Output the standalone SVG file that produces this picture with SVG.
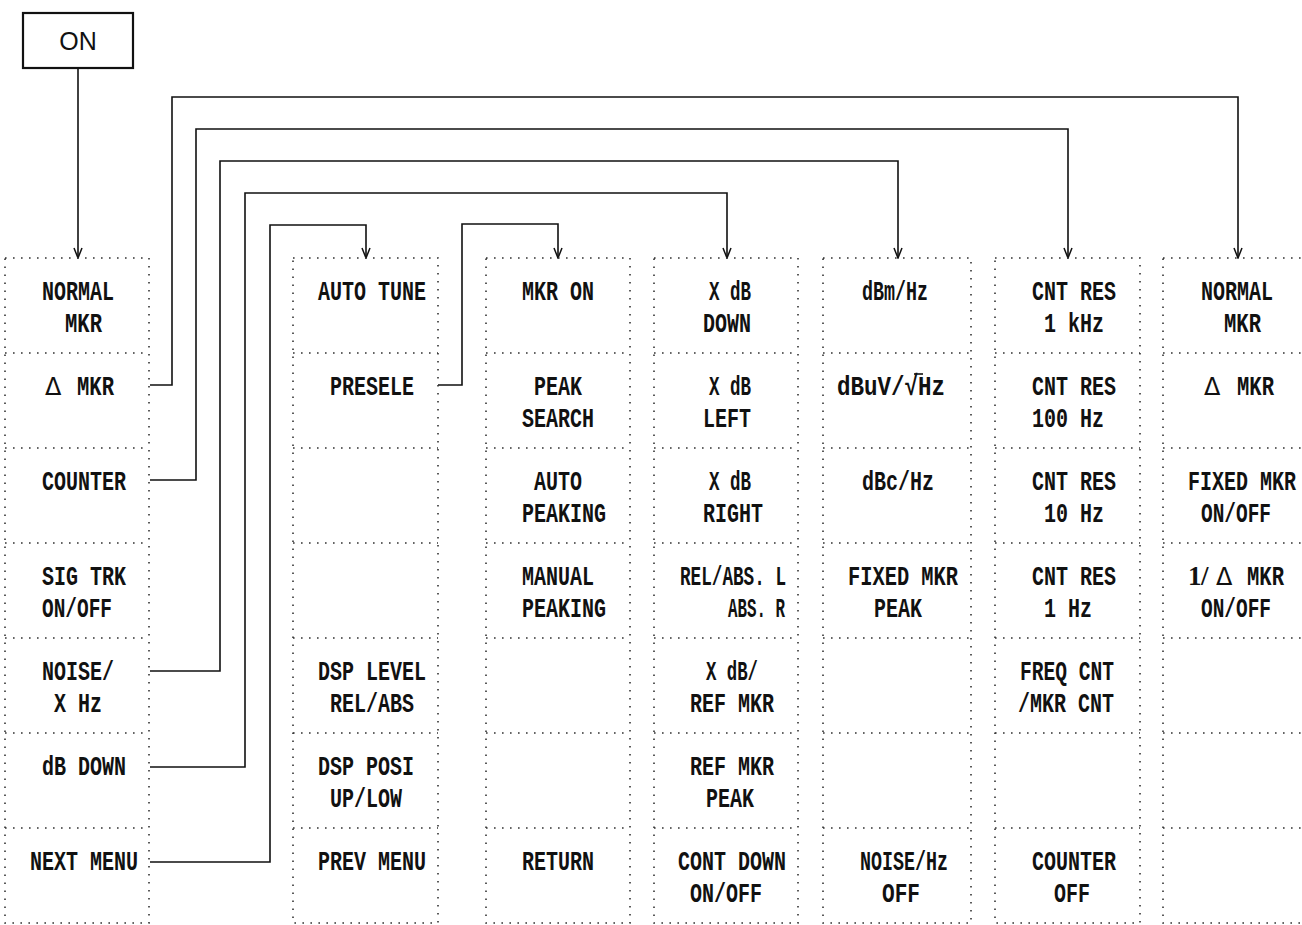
<svg xmlns="http://www.w3.org/2000/svg" width="1302" height="925" viewBox="0 0 1302 925">
<style>
.bg{fill:#fff}
.col{fill:none;stroke:#333;stroke-width:1.6;stroke-dasharray:1.6 6.4}
.t{font-family:"Liberation Mono","DejaVu Sans Mono",monospace;font-size:28px;font-weight:bold;fill:#111}
.dl{font-family:"DejaVu Sans","Liberation Sans",sans-serif;font-size:24px;font-weight:normal}
.sf{font-family:"Liberation Serif","Times New Roman",serif;font-size:27px;font-weight:bold}
.c{fill:none;stroke:#111;stroke-width:1.6}
.on{font-family:"Liberation Sans",Arial,sans-serif;font-size:25px;fill:#111}
</style>
<defs>
<marker id="arr" viewBox="-11 -5 12 10" refX="0" refY="0" markerWidth="12" markerHeight="10" markerUnits="userSpaceOnUse" orient="auto">
<path d="M-10,-4 L0,0 L-10,4" fill="none" stroke="#111" stroke-width="1.5"/>
</marker>
</defs>
<rect class="bg" x="0" y="0" width="1302" height="925"/>

<g id="on">
<rect x="23" y="13" width="110" height="55" fill="none" stroke="#111" stroke-width="2.2"/>
<text class="on" x="78" y="50" text-anchor="middle">ON</text>
</g>

<g id="connectors">
<path class="c" d="M78,68 V258" marker-end="url(#arr)"/>
<path class="c" d="M150,385 H172 V97 H1238 V258" marker-end="url(#arr)"/>
<path class="c" d="M150,480 H196 V129 H1068 V258" marker-end="url(#arr)"/>
<path class="c" d="M150,671 H220 V161 H898 V258" marker-end="url(#arr)"/>
<path class="c" d="M150,767 H245 V193 H727 V258" marker-end="url(#arr)"/>
<path class="c" d="M150,862 H270 V225 H366 V258" marker-end="url(#arr)"/>
<path class="c" d="M438,385 H462 V224 H558 V258" marker-end="url(#arr)"/>
</g>

<g id="col1">
<rect class="col" x="5" y="258" width="144" height="665"/>
<path class="col" d="M5,353 H149 M5,448 H149 M5,543 H149 M5,638 H149 M5,733 H149 M5,828 H149"/>
<g id="c1-normal"><text class="t" x="42" y="300" textLength="72" lengthAdjust="spacingAndGlyphs">NORMAL</text><text class="t" x="65" y="332" textLength="37" lengthAdjust="spacingAndGlyphs">MKR</text></g>
<g id="c1-delta"><text class="t" y="395"><tspan class="dl" x="45">Δ </tspan><tspan x="77" textLength="37" lengthAdjust="spacingAndGlyphs">MKR</tspan></text></g>
<g id="c1-counter"><text class="t" x="42" y="490" textLength="84" lengthAdjust="spacingAndGlyphs">COUNTER</text></g>
<g id="c1-sigtrk"><text class="t" x="42" y="585" textLength="84" lengthAdjust="spacingAndGlyphs">SIG TRK</text><text class="t" x="42" y="617" textLength="70" lengthAdjust="spacingAndGlyphs">ON/OFF</text></g>
<g id="c1-noise"><text class="t" x="42" y="680" textLength="72" lengthAdjust="spacingAndGlyphs">NOISE/</text><text class="t" x="54" y="712" textLength="48" lengthAdjust="spacingAndGlyphs">X Hz</text></g>
<g id="c1-dbdown"><text class="t" x="42" y="775" textLength="84" lengthAdjust="spacingAndGlyphs">dB DOWN</text></g>
<g id="c1-next"><text class="t" x="30" y="870" textLength="108" lengthAdjust="spacingAndGlyphs">NEXT MENU</text></g>
</g>

<g id="col2">
<rect class="col" x="293" y="258" width="145" height="665"/>
<path class="col" d="M293,353 H438 M293,448 H438 M293,543 H438 M293,638 H438 M293,733 H438 M293,828 H438"/>
<g id="c2-autotune"><text class="t" x="318" y="300" textLength="108" lengthAdjust="spacingAndGlyphs">AUTO TUNE</text></g>
<g id="c2-presele"><text class="t" x="330" y="395" textLength="84" lengthAdjust="spacingAndGlyphs">PRESELE</text></g>
<g id="c2-dsplevel"><text class="t" x="318" y="680" textLength="108" lengthAdjust="spacingAndGlyphs">DSP LEVEL</text><text class="t" x="330" y="712" textLength="84" lengthAdjust="spacingAndGlyphs">REL/ABS</text></g>
<g id="c2-dspposi"><text class="t" x="318" y="775" textLength="96" lengthAdjust="spacingAndGlyphs">DSP POSI</text><text class="t" x="330" y="807" textLength="72" lengthAdjust="spacingAndGlyphs">UP/LOW</text></g>
<g id="c2-prev"><text class="t" x="318" y="870" textLength="108" lengthAdjust="spacingAndGlyphs">PREV MENU</text></g>
</g>

<g id="col3">
<rect class="col" x="486" y="258" width="144" height="665"/>
<path class="col" d="M486,353 H630 M486,448 H630 M486,543 H630 M486,638 H630 M486,733 H630 M486,828 H630"/>
<g id="c3-mkron"><text class="t" x="522" y="300" textLength="72" lengthAdjust="spacingAndGlyphs">MKR ON</text></g>
<g id="c3-peak"><text class="t" x="534" y="395" textLength="48" lengthAdjust="spacingAndGlyphs">PEAK</text><text class="t" x="522" y="427" textLength="72" lengthAdjust="spacingAndGlyphs">SEARCH</text></g>
<g id="c3-auto"><text class="t" x="534" y="490" textLength="48" lengthAdjust="spacingAndGlyphs">AUTO</text><text class="t" x="522" y="522" textLength="84" lengthAdjust="spacingAndGlyphs">PEAKING</text></g>
<g id="c3-manual"><text class="t" x="522" y="585" textLength="72" lengthAdjust="spacingAndGlyphs">MANUAL</text><text class="t" x="522" y="617" textLength="84" lengthAdjust="spacingAndGlyphs">PEAKING</text></g>
<g id="c3-return"><text class="t" x="522" y="870" textLength="72" lengthAdjust="spacingAndGlyphs">RETURN</text></g>
</g>

<g id="col4">
<rect class="col" x="654" y="258" width="144" height="665"/>
<path class="col" d="M654,353 H798 M654,448 H798 M654,543 H798 M654,638 H798 M654,733 H798 M654,828 H798"/>
<g id="c4-down"><text class="t" x="709" y="300" textLength="42" lengthAdjust="spacingAndGlyphs">X dB</text><text class="t" x="703" y="332" textLength="48" lengthAdjust="spacingAndGlyphs">DOWN</text></g>
<g id="c4-left"><text class="t" x="709" y="395" textLength="42" lengthAdjust="spacingAndGlyphs">X dB</text><text class="t" x="703" y="427" textLength="48" lengthAdjust="spacingAndGlyphs">LEFT</text></g>
<g id="c4-right"><text class="t" x="709" y="490" textLength="42" lengthAdjust="spacingAndGlyphs">X dB</text><text class="t" x="703" y="522" textLength="60" lengthAdjust="spacingAndGlyphs">RIGHT</text></g>
<g id="c4-relabs"><text class="t" x="680" y="585" textLength="106" lengthAdjust="spacingAndGlyphs">REL/ABS. L</text><text class="t" x="728" y="617" textLength="57" lengthAdjust="spacingAndGlyphs">ABS. R</text></g>
<g id="c4-xdbref"><text class="t" x="706" y="680" textLength="52" lengthAdjust="spacingAndGlyphs">X dB/</text><text class="t" x="690" y="712" textLength="84" lengthAdjust="spacingAndGlyphs">REF MKR</text></g>
<g id="c4-refpeak"><text class="t" x="690" y="775" textLength="84" lengthAdjust="spacingAndGlyphs">REF MKR</text><text class="t" x="706" y="807" textLength="48" lengthAdjust="spacingAndGlyphs">PEAK</text></g>
<g id="c4-cont"><text class="t" x="678" y="870" textLength="108" lengthAdjust="spacingAndGlyphs">CONT DOWN</text><text class="t" x="690" y="902" textLength="72" lengthAdjust="spacingAndGlyphs">ON/OFF</text></g>
</g>

<g id="col5">
<rect class="col" x="823" y="258" width="148" height="665"/>
<path class="col" d="M823,353 H971 M823,448 H971 M823,543 H971 M823,638 H971 M823,733 H971 M823,828 H971"/>
<g id="c5-dbm"><text class="t" x="862" y="300" textLength="66" lengthAdjust="spacingAndGlyphs">dBm/Hz</text></g>
<g id="c5-dbuv"><text class="t" x="837" y="395" textLength="108" lengthAdjust="spacingAndGlyphs">dBuV/√Hz</text><line x1="914" y1="374" x2="923" y2="374" stroke="#111" stroke-width="1.6"/></g>
<g id="c5-dbc"><text class="t" x="862" y="490" textLength="72" lengthAdjust="spacingAndGlyphs">dBc/Hz</text></g>
<g id="c5-fixed"><text class="t" x="848" y="585" textLength="110" lengthAdjust="spacingAndGlyphs">FIXED MKR</text><text class="t" x="874" y="617" textLength="48" lengthAdjust="spacingAndGlyphs">PEAK</text></g>
<g id="c5-noise"><text class="t" x="860" y="870" textLength="88" lengthAdjust="spacingAndGlyphs">NOISE/Hz</text><text class="t" x="882" y="902" textLength="38" lengthAdjust="spacingAndGlyphs">OFF</text></g>
</g>

<g id="col6">
<rect class="col" x="995" y="258" width="145" height="665"/>
<path class="col" d="M995,353 H1140 M995,448 H1140 M995,543 H1140 M995,638 H1140 M995,733 H1140 M995,828 H1140"/>
<g id="c6-1k"><text class="t" x="1032" y="300" textLength="84" lengthAdjust="spacingAndGlyphs">CNT RES</text><text class="t" x="1044" y="332" textLength="60" lengthAdjust="spacingAndGlyphs">1 kHz</text></g>
<g id="c6-100"><text class="t" x="1032" y="395" textLength="84" lengthAdjust="spacingAndGlyphs">CNT RES</text><text class="t" x="1032" y="427" textLength="72" lengthAdjust="spacingAndGlyphs">100 Hz</text></g>
<g id="c6-10"><text class="t" x="1032" y="490" textLength="84" lengthAdjust="spacingAndGlyphs">CNT RES</text><text class="t" x="1044" y="522" textLength="60" lengthAdjust="spacingAndGlyphs">10 Hz</text></g>
<g id="c6-1"><text class="t" x="1032" y="585" textLength="84" lengthAdjust="spacingAndGlyphs">CNT RES</text><text class="t" x="1044" y="617" textLength="48" lengthAdjust="spacingAndGlyphs">1 Hz</text></g>
<g id="c6-freq"><text class="t" x="1020" y="680" textLength="94" lengthAdjust="spacingAndGlyphs">FREQ CNT</text><text class="t" x="1018" y="712" textLength="96" lengthAdjust="spacingAndGlyphs">/MKR CNT</text></g>
<g id="c6-off"><text class="t" x="1032" y="870" textLength="84" lengthAdjust="spacingAndGlyphs">COUNTER</text><text class="t" x="1054" y="902" textLength="36" lengthAdjust="spacingAndGlyphs">OFF</text></g>
</g>

<g id="col7">
<rect class="col" x="1163" y="258" width="160" height="665"/>
<path class="col" d="M1163,353 H1323 M1163,448 H1323 M1163,543 H1323 M1163,638 H1323 M1163,733 H1323 M1163,828 H1323"/>
<g id="c7-normal"><text class="t" x="1201" y="300" textLength="72" lengthAdjust="spacingAndGlyphs">NORMAL</text><text class="t" x="1224" y="332" textLength="37" lengthAdjust="spacingAndGlyphs">MKR</text></g>
<g id="c7-delta"><text class="t" y="395"><tspan class="dl" x="1204">Δ </tspan><tspan x="1237" textLength="37" lengthAdjust="spacingAndGlyphs">MKR</tspan></text></g>
<g id="c7-fixed"><text class="t" transform="translate(1188,490) scale(0.714,1)" x="0" y="0">FIXED MKR</text><text class="t" x="1201" y="522" textLength="70" lengthAdjust="spacingAndGlyphs">ON/OFF</text></g>
<g id="c7-inv"><text class="t" y="585"><tspan class="sf" x="1188 1201">1/</tspan><tspan class="dl" x="1216">Δ </tspan><tspan x="1247" textLength="37" lengthAdjust="spacingAndGlyphs">MKR</tspan></text><text class="t" x="1201" y="617" textLength="70" lengthAdjust="spacingAndGlyphs">ON/OFF</text></g>
</g>
</svg>
